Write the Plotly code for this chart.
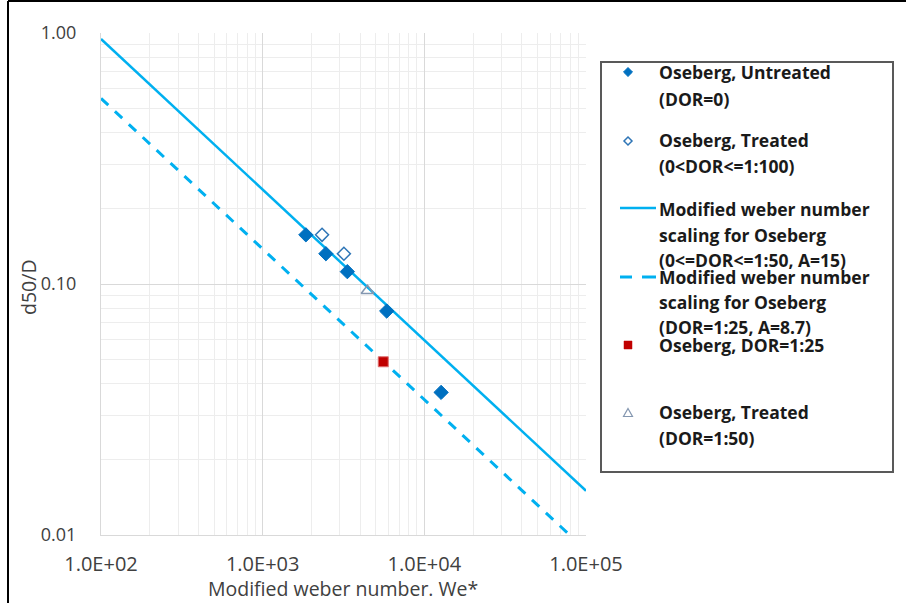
import plotly.graph_objects as go

# Measured droplet sizes, Oseberg crude
we_untreated = [1850, 2460, 3340, 5850, 12700]
d_untreated = [0.157, 0.132, 0.112, 0.078, 0.037]

we_treated = [2330, 3180]
d_treated = [0.157, 0.132]

we_dor25 = [5570]
d_dor25 = [0.049]

we_dor50 = [4450]
d_dor50 = [0.094]

# Modified Weber number scaling d50/D = A * We^-0.6
exponent = -0.6
A_low = 15.0
A_dor25 = 8.7
we_range = [100, 100000]

x_tickvals = [100, 1000, 10000, 100000]
x_ticktext = ["1.0E+02", "1.0E+03", "1.0E+04", "1.0E+05"]
y_tickvals = [0.01, 0.1, 1.0]
y_ticktext = ["0.01", "0.10", "1.00"]

W, H = 906, 603
L, R, T, B = 101, 586, 33, 535

FONT = "Open Sans"
LINE_BLUE = "#00B0F0"


def px(x):
    return (x - L) / (R - L)


def py(y):
    return (B - y) / (B - T)


def poly(points):
    return "M " + " L ".join(f"{px(a):.5f},{py(b):.5f}" for a, b in points) + " Z"


fig = go.Figure()

fig.add_trace(go.Scatter(
    x=we_range, y=[A_low * w ** exponent for w in we_range],
    mode="lines", line=dict(color=LINE_BLUE, width=2.5), showlegend=False))
fig.add_trace(go.Scatter(
    x=we_range, y=[A_dor25 * w ** exponent for w in we_range],
    mode="lines", line=dict(color=LINE_BLUE, width=3, dash="10px,9px"), showlegend=False))

fig.add_trace(go.Scatter(
    x=we_untreated, y=d_untreated, mode="markers", showlegend=False,
    marker=dict(symbol="diamond", size=11, color="#0070C0",
                line=dict(color="#0070C0", width=1))))
fig.add_trace(go.Scatter(
    x=we_treated, y=d_treated, mode="markers", showlegend=False,
    marker=dict(symbol="diamond-open", size=10, color="#2E75B6",
                line=dict(width=1.5))))
fig.add_trace(go.Scatter(
    x=we_dor25, y=d_dor25, mode="markers", showlegend=False,
    marker=dict(symbol="square", size=10, color="#C00000",
                line=dict(color="#E07070", width=1))))
fig.add_trace(go.Scatter(
    x=we_dor50, y=d_dor50, mode="markers", showlegend=False,
    marker=dict(symbol="triangle-up-open", size=11, color="#8497B0",
                line=dict(width=1.5))))

kx = 628
shapes = [
    # outer frame (top and left)
    dict(type="line", xref="paper", yref="paper", x0=px(8), x1=px(W + 5),
         y0=py(1), y1=py(1), line=dict(color="black", width=2)),
    dict(type="line", xref="paper", yref="paper", x0=px(8), x1=px(8),
         y0=py(1), y1=py(H + 5), line=dict(color="black", width=2)),
    # legend box
    dict(type="rect", xref="paper", yref="paper", x0=px(601), x1=px(893),
         y0=py(62), y1=py(472), line=dict(color="#595959", width=2),
         fillcolor="white", layer="below"),
    # legend keys
    dict(type="path", xref="paper", yref="paper",
         path=poly([(kx, 67.5), (kx + 4.5, 72), (kx, 76.5), (kx - 4.5, 72)]),
         fillcolor="#0070C0", line=dict(color="#0070C0", width=1)),
    dict(type="path", xref="paper", yref="paper",
         path=poly([(kx, 137), (kx + 4, 141), (kx, 145), (kx - 4, 141)]),
         fillcolor="white", line=dict(color="#2E75B6", width=1.5)),
    dict(type="line", xref="paper", yref="paper", x0=px(620), x1=px(656),
         y0=py(208), y1=py(208), line=dict(color=LINE_BLUE, width=2.5)),
    dict(type="line", xref="paper", yref="paper", x0=px(620), x1=px(632),
         y0=py(277), y1=py(277), line=dict(color=LINE_BLUE, width=3)),
    dict(type="line", xref="paper", yref="paper", x0=px(642), x1=px(656),
         y0=py(277), y1=py(277), line=dict(color=LINE_BLUE, width=3)),
    dict(type="rect", xref="paper", yref="paper", x0=px(kx - 4), x1=px(kx + 4),
         y0=py(341), y1=py(349), fillcolor="#C00000", line=dict(color="#C00000", width=0.5)),
    dict(type="path", xref="paper", yref="paper",
         path=poly([(kx, 408.5), (kx + 4.5, 416.5), (kx - 4.5, 416.5)]),
         fillcolor="white", line=dict(color="#8497B0", width=1.2)),
]

legend_lines = [
    ("Oseberg, Untreated", 72),
    ("(DOR=0)", 99),
    ("Oseberg, Treated", 140),
    ("(0<DOR<=1:100)", 166),
    ("Modified weber number", 209),
    ("scaling for Oseberg", 235),
    ("(0<=DOR<=1:50, A=15)", 260),
    ("Modified weber number", 277),
    ("scaling for Oseberg", 302),
    ("(DOR=1:25, A=8.7)", 327),
    ("Oseberg, DOR=1:25", 345),
    ("Oseberg, Treated", 412),
    ("(DOR=1:50)", 438),
]

annotations = []
for text, y in legend_lines:
    annotations.append(dict(
        text="<b>" + text.replace("<", "&lt;") + "</b>", x=px(657), y=py(y),
        xref="paper", yref="paper", xanchor="left", yanchor="middle",
        showarrow=False, font=dict(family=FONT, size=17.5, color="#1a1a1a")))

annotations.append(dict(
    text="d50/D", x=px(28), y=py(287), xref="paper", yref="paper",
    textangle=-90, showarrow=False, xanchor="center", yanchor="middle",
    font=dict(family=FONT, size=19.5, color="#404040")))
annotations.append(dict(
    text="Modified weber number. We*", x=px(343), y=py(588), xref="paper", yref="paper",
    showarrow=False, xanchor="center", yanchor="middle",
    font=dict(family=FONT, size=19.5, color="#404040")))

minor_x = [m * 10 ** k for k in (2, 3, 4) for m in range(2, 10)]
minor_y = [m * 10 ** k for k in (-2, -1) for m in range(2, 10)]

fig.update_layout(
    width=W, height=H,
    margin=dict(l=L, r=W - R, t=T, b=H - B),
    paper_bgcolor="white", plot_bgcolor="white",
    showlegend=False,
    shapes=shapes, annotations=annotations,
    xaxis=dict(
        type="log", range=[2, 5], tickvals=x_tickvals, ticktext=x_ticktext,
        showgrid=True, gridcolor="#D9D9D9", gridwidth=1,
        showline=True, linecolor="#D9D9D9", linewidth=1, mirror=False,
        zeroline=False, ticks="", ticklabelstandoff=11,
        tickfont=dict(family=FONT, size=20, color="#404040"),
        minor=dict(tickvals=minor_x, showgrid=True, gridcolor="#EDEDED", gridwidth=1),
    ),
    yaxis=dict(
        type="log", range=[-2, 0], tickvals=y_tickvals, ticktext=y_ticktext,
        showgrid=True, gridcolor="#D9D9D9", gridwidth=1,
        showline=True, linecolor="#D9D9D9", linewidth=1,
        zeroline=False, ticks="", ticklabelstandoff=20,
        tickfont=dict(family=FONT, size=18, color="#404040"),
        minor=dict(tickvals=minor_y, showgrid=True, gridcolor="#EDEDED", gridwidth=1),
    ),
)

fig.write_html("out.html")
